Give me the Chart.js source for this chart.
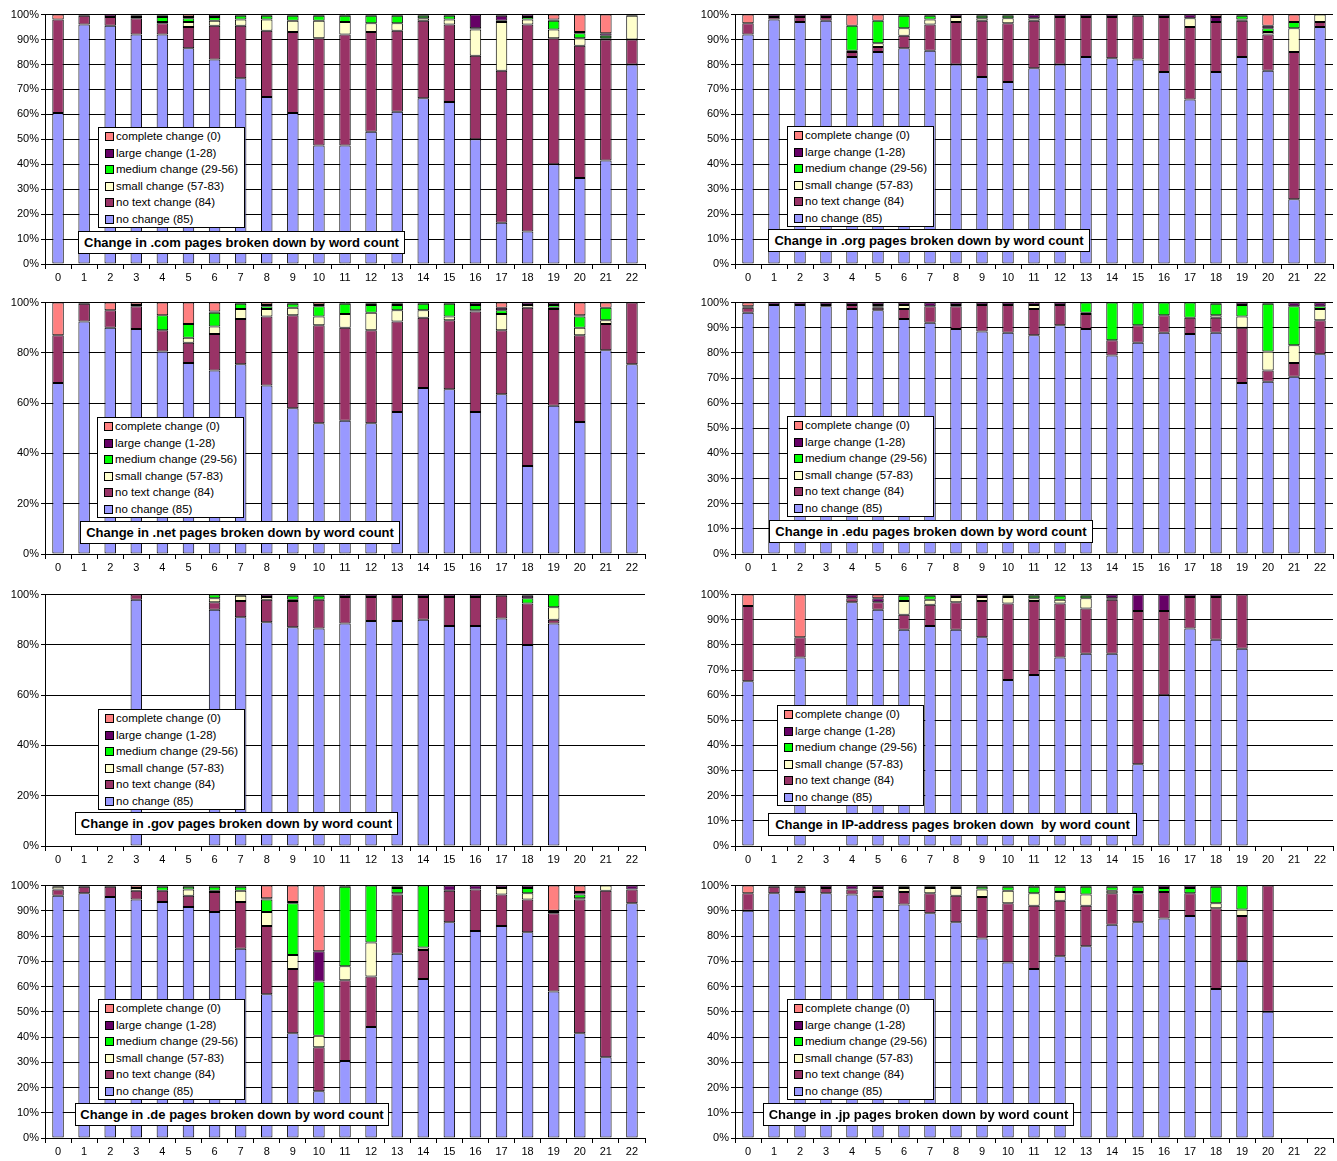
<!DOCTYPE html>
<html lang="en">
<head>
  <meta charset="UTF-8" />
  <title>Change broken down by word count</title>
  <script src="https://cdn.jsdelivr.net/npm/chart.js@4.4.1/dist/chart.umd.min.js"></script>
  <style>
    body {
      margin: 0;
      background: #fff;
      font-family: 'Liberation Sans', Arial, sans-serif;
    }
    canvas { position: absolute; }
    .legend {
      position: absolute;
      width: 147px;
      height: 101px;
      box-sizing: border-box;
      border: 1px solid #000;
      background: #fff;
      font-size: 11.5px;
      padding: 0 0 0 6px;
    }
    .legend div {
      height: 16.5px;
      line-height: 16.5px;
      white-space: nowrap;
      color: #000;
    }
    .legend span.sw {
      display: inline-block;
      width: 7px;
      height: 7px;
      border: 1px solid #000;
      margin-right: 2px;
      vertical-align: -1px;
    }
    .title {
      position: absolute;
      height: 23px;
      line-height: 21px;
      box-sizing: border-box;
      border: 1px solid #000;
      background: #fff;
      font-size: 13px;
      font-weight: bold;
      text-align: center;
      white-space: pre;
      overflow: hidden;
    }
  </style>
</head>
<body>
  <canvas id="c0"></canvas>
  <canvas id="c1"></canvas>
  <canvas id="c2"></canvas>
  <canvas id="c3"></canvas>
  <canvas id="c4"></canvas>
  <canvas id="c5"></canvas>
  <canvas id="c6"></canvas>
  <canvas id="c7"></canvas>

  <script>
    // word count buckets on the x axis
    const categories = ['0','1','2','3','4','5','6','7','8','9','10','11','12','13','14','15','16','17','18','19','20','21','22'];
    const seriesNames = ['no change (85)', 'no text change (84)', 'small change (57-83)', 'medium change (29-56)', 'large change (1-28)', 'complete change (0)'];
    const seriesColors = ['#9999FF', '#993366', '#FFFFCC', '#00FF00', '#660066', '#FF8080'];

    // .com
    const comNoChange = [60.5,96,95.5,92,92,86.5,82,74.5,67,60.5,47.5,47.5,53,61,66.5,65,50,16.5,13,40,34.5,41.5,80];
    const comNoText   = [37.5,3.5,3.5,6.5,4.5,8.5,13.5,21,26.5,32.5,43,44.5,40,32.5,31,31,33.5,61,83,50.5,53,48.5,10];
    const comSmall    = [0,0,0,0.5,0.5,2,2,2.5,4.5,4.5,7,5,3.5,3,1,2,10.5,19.5,2,3.5,3,0.5,9.5];
    const comMedium   = [0,0,0,0,2,1.5,1.5,1.5,1.5,2,2,2.5,3,3,1,1.5,0.5,0.5,1,3.5,2,1,0];
    const comLarge    = [0,0.5,1,0.5,0.5,0.5,1,0.5,0.5,0.5,0.5,0.5,0.5,0.5,0.5,0.5,5.5,2,1,0.5,0.5,1,0.5];
    const comComplete = [2,0,0,0.5,0.5,1,0,0,0,0,0,0,0,0,0,0,0,0.5,0,2,7,7.5,0];

    // .org
    const orgNoChange = [92,98,97,97.5,83,85,86.5,85.5,80,75,73,78.5,80,83,82.5,82,77,66,77,83,77.5,26,95];
    const orgNoText   = [4.5,1,2,1.5,2,2,5,10.5,17,22.5,23.5,19,19,16,16.5,17.5,22,29,20,14.5,14.5,59,2];
    const orgSmall    = [0,0,0,0,0.5,1.5,3,2,2,1,2,1,0,0,0,0,0,3.5,0,0.5,1,9.5,3];
    const orgMedium   = [0,0,0,0,10,9,5,1.5,0,1,1,0,0,0,0,0,0,0,0,1.5,1.5,2.5,0];
    const orgLarge    = [0,1,1,1,0,0,0.5,0.5,1,0.5,0.5,1.5,1,1,1,0.5,1,1.5,2,0.5,1,0,0];
    const orgComplete = [3.5,0,0,0,4.5,2.5,0,0,0,0,0,0,0,0,0,0,0,0,1,0,4.5,3,0];

    // .net
    const netNoChange = [68,92.5,90,89.5,80.5,76,73,75.5,67,58,52,53,52,56.5,66,65.5,56.5,63.5,35,59,52.5,81,75.5];
    const netNoText   = [19,7,7,9,8.5,8,14.5,18,27.5,37,39,37,37,36,28,27.5,40,25.5,63,38.5,34.5,10.5,24.5];
    const netSmall    = [0,0,0,0,0,2,3,4,3,3,3.5,5.5,7,4.5,3,1.5,0.5,6.5,1,0.5,3,1.5,0];
    const netMedium   = [0,0,0,0,6,5.5,5.5,2,1,1.5,4,4,3,2,2.5,5,2,1.5,0,1,4.5,5,0];
    const netLarge    = [0,0.5,0,0.5,0,0,0.5,0.5,0.5,0.5,0.5,0.5,0.5,0.5,0.5,0.5,1,1,1,1,0.5,0,0];
    const netComplete = [13,0,3,1,5,8.5,3.5,0,1,0,1,0,0.5,0.5,0,0,0,2,0,0,5,2,0];

    // .edu
    const eduNoChange = [96,99,99,98.5,97.5,97,93.5,92,89.5,88.5,88,87,91,89.5,79,84,88,87.5,88,68,68.5,70.5,79.5];
    const eduNoText   = [2,0,0,0.5,1.5,1,4,6.5,9,10.5,11,10.5,8,6,6,7,7,6.5,6,22,4.5,5.5,13.5];
    const eduSmall    = [0,0,0,0,0,0.5,1.5,0,0,0,0,1.5,0,0.5,0,0,0,0,1,4.5,7.5,7,4.5];
    const eduMedium   = [0,0,0,0,0,0.5,0,0,0.5,0,0,0,0,4,15,9,5,6,4.5,4.5,19,15.5,1];
    const eduLarge    = [0.5,1,1,1,1,1,1,1.5,1,1,1,1,1,0,0,0,0,0,0.5,1,0.5,1.5,1.5];
    const eduComplete = [1.5,0,0,0,0,0,0,0,0,0,0,0,0,0,0,0,0,0,0,0,0,0,0];

    // .gov
    const govNoChange = [0,0,0,98,0,0,94,91,89,87,86.5,88.5,89.5,89.5,90,87.5,87.5,90.5,80,88.5,0,0,0];
    const govNoText   = [0,0,0,2,0,0,3,6.5,9,10.5,11.5,10.5,9.5,9.5,9,11.5,11.5,9,16.5,1.5,0,0,0];
    const govSmall    = [0,0,0,0,0,0,1.5,2,1,0.5,0,0,0,0,0,0,0,0,0,5,0,0,0];
    const govMedium   = [0,0,0,0,0,0,1.5,0,0,1.5,1.5,0,0,0,0,0,0,0,2,5,0,0,0];
    const govLarge    = [0,0,0,0,0,0,0,0.5,1,0.5,0.5,1,1,1,1,1,1,0.5,1,0,0,0,0];
    const govComplete = [0,0,0,0,0,0,0,0,0,0,0,0,0,0,0,0,0,0,0.5,0,0,0,0];

    // IP-address
    const ipNoChange = [65.5,0,75,0,97,94,86,87.5,86,83,66,68,75,76.5,76.5,32.5,60,86.5,82,78.5,0,0,0];
    const ipNoText   = [30,0,8,0,1.5,3,6,8.5,11,14.5,30.5,29.5,21.5,18,21.5,61,33.5,12.5,17,21.5,0,0,0];
    const ipSmall    = [0,0,0,0,0,0,5.5,2,2,1.5,2.5,1,1.5,4,0.5,0,0,0,0,0,0,0,0];
    const ipMedium   = [0,0,0,0,0,0,2,1.5,0,0,0.5,1,1.5,1,0,0,0,0,0,0,0,0,0];
    const ipLarge    = [0,0,0,0,1.5,1.5,0.5,0.5,1,1,0.5,0.5,0.5,0.5,1.5,6.5,6.5,1,1,0,0,0,0];
    const ipComplete = [4.5,0,17,0,0,1.5,0,0,0,0,0,0,0,0,0,0,0,0,0,0,0,0,0];

    // .de
    const deNoChange = [96,97,95.5,94.5,93.5,91.5,89.5,75,57,41.5,18.5,30.5,44,73,63,85.5,82,84,81.5,58,41.5,32,93];
    const deNoText   = [2.5,2.5,4,3.5,4.5,4.5,8,18.5,27,25.5,17.5,32,20,23.5,11.5,12.5,16.5,12.5,13,31,53,66,5.5];
    const deSmall    = [1,0,0,1,0,2.5,0.5,4.5,5.5,5.5,4.5,5.5,13.5,0.5,1,0,0,2.5,2.5,0.5,0.5,2,0];
    const deMedium   = [0,0,0,0,1.5,1,1.5,1.5,5,20.5,21.5,31.5,22.5,2,24.5,0,0,0,2,0,1.5,0,0];
    const deLarge    = [0,0.5,0.5,0,0.5,0.5,0.5,0.5,0.5,0.5,12,0.5,0,0.5,0,2,1.5,1,1,0.5,1,0,1.5];
    const deComplete = [0.5,0,0,1,0,0,0,0,5,6.5,26,0,0,0.5,0,0,0,0,0,10,2.5,0,0];

    // .jp
    const jpNoChange = [90,97,97.5,97,96.5,95.5,92.5,89,85.5,79,69.5,67,72,76,84.5,85.5,87,88,59,70,50,0,0];
    const jpNoText   = [7,2.5,2,2,2,2.5,5,8,10.5,16.5,23.5,25,22,16,12.5,11.5,10.5,9,32,18,50,0,0];
    const jpSmall    = [0,0,0,0,0,1,1.5,2,3,3,5,5,3.5,4.5,1,0.5,0,0,2,2.5,0,0,0];
    const jpMedium   = [0,0,0,0,0,0,0.5,0.5,0.5,1,1.5,2.5,2,3,1.5,2,1.5,2,6.5,9.5,0,0,0];
    const jpLarge    = [0,0.5,0.5,1,1.5,1,0.5,0.5,0.5,0.5,0.5,0.5,0.5,0.5,0.5,0.5,1,1,0.5,0,0,0,0];
    const jpComplete = [3,0,0,0,0,0,0,0,0,0,0,0,0,0,0,0,0,0,0,0,0,0,0];

    // panel list (data + text); placement is below
    const panels = [
      { title: 'Change in .com pages broken down by word count', step: 10,
        series: [comNoChange, comNoText, comSmall, comMedium, comLarge, comComplete] },
      { title: 'Change in .org pages broken down by word count', step: 10,
        series: [orgNoChange, orgNoText, orgSmall, orgMedium, orgLarge, orgComplete] },
      { title: 'Change in .net pages broken down by word count', step: 20,
        series: [netNoChange, netNoText, netSmall, netMedium, netLarge, netComplete] },
      { title: 'Change in .edu pages broken down by word count', step: 10,
        series: [eduNoChange, eduNoText, eduSmall, eduMedium, eduLarge, eduComplete] },
      { title: 'Change in .gov pages broken down by word count', step: 20,
        series: [govNoChange, govNoText, govSmall, govMedium, govLarge, govComplete] },
      { title: 'Change in IP-address pages broken down  by word count', step: 10,
        series: [ipNoChange, ipNoText, ipSmall, ipMedium, ipLarge, ipComplete] },
      { title: 'Change in .de pages broken down by word count', step: 10,
        series: [deNoChange, deNoText, deSmall, deMedium, deLarge, deComplete] },
      { title: 'Change in .jp pages broken down by word count', step: 10,
        series: [jpNoChange, jpNoText, jpSmall, jpMedium, jpLarge, jpComplete] }
    ];

    // placement: plot area edges, legend box and title box (page pixels)
    const plotLeft = [45, 735];
    const plotRight = [645, 1333];
    const plotTop = [14, 302, 594, 885];
    const plotBottom = [264, 554, 846, 1138];
    const legendPos = [[98,127],[787,126],[97,417],[787,416],[98,709],[777,705],[98,999],[787,999]];
    const titlePos = [[78,231,327],[768,229,322],[80,521,320],[769,520,324],[75,812,323],[768,813,369],[75,1103,314],[763,1103,311]];

    const AXIS_W = 45, XAXIS_H = 26, PAD_TOP = 8, PAD_RIGHT = 4;
    const FONT = { family: "'Liberation Sans', Arial, sans-serif", size: 11 };

    panels.forEach((p, i) => {
      const col = i % 2, row = Math.floor(i / 2);
      const canvas = document.getElementById('c' + i);
      const left = plotLeft[col] - AXIS_W;
      const top = plotTop[row] - PAD_TOP;
      const w = plotRight[col] - plotLeft[col] + AXIS_W + PAD_RIGHT;
      const h = plotBottom[row] - plotTop[row] + PAD_TOP + XAXIS_H;
      canvas.style.left = left + 'px';
      canvas.style.top = top + 'px';
      canvas.width = w;
      canvas.height = h;

      new Chart(canvas.getContext('2d'), {
        type: 'bar',
        data: {
          labels: categories,
          datasets: p.series.map((vals, k) => ({
            label: seriesNames[k],
            data: vals,
            backgroundColor: seriesColors[k],
            borderColor: '#000',
            borderWidth: 1,
            borderSkipped: false,
            barPercentage: 0.44,
            categoryPercentage: 1
          }))
        },
        options: {
          responsive: false,
          animation: false,
          layout: { padding: { top: PAD_TOP, right: PAD_RIGHT, left: 0, bottom: 0 } },
          plugins: { legend: { display: false }, tooltip: { enabled: false } },
          scales: {
            x: {
              stacked: true,
              grid: { display: true, drawOnChartArea: false, drawTicks: true, tickLength: 5, color: '#000', offset: true },
              border: { color: '#000', width: 1 },
              ticks: { color: '#000', font: FONT, autoSkip: false, maxRotation: 0, padding: 2 },
              afterFit: s => { s.height = XAXIS_H; }
            },
            y: {
              stacked: true,
              min: 0,
              max: 100,
              grid: { color: '#000', lineWidth: 1, drawTicks: true, tickLength: 4 },
              border: { color: '#000', width: 1 },
              ticks: { stepSize: p.step, color: '#000', font: FONT, padding: 2, callback: v => v + '%' },
              afterFit: s => { s.width = AXIS_W; }
            }
          }
        }
      });

      // legend box, top entry first as in the original
      const lg = document.createElement('div');
      lg.className = 'legend';
      lg.style.left = legendPos[i][0] + 'px';
      lg.style.top = legendPos[i][1] + 'px';
      for (let k = seriesNames.length - 1; k >= 0; k--) {
        const item = document.createElement('div');
        const sw = document.createElement('span');
        sw.className = 'sw';
        sw.style.background = seriesColors[k];
        item.appendChild(sw);
        item.appendChild(document.createTextNode(seriesNames[k]));
        lg.appendChild(item);
      }
      document.body.appendChild(lg);

      const tt = document.createElement('div');
      tt.className = 'title';
      tt.style.left = titlePos[i][0] + 'px';
      tt.style.top = titlePos[i][1] + 'px';
      tt.style.width = titlePos[i][2] + 'px';
      tt.textContent = p.title;
      document.body.appendChild(tt);
    });
  </script>
</body>
</html>
